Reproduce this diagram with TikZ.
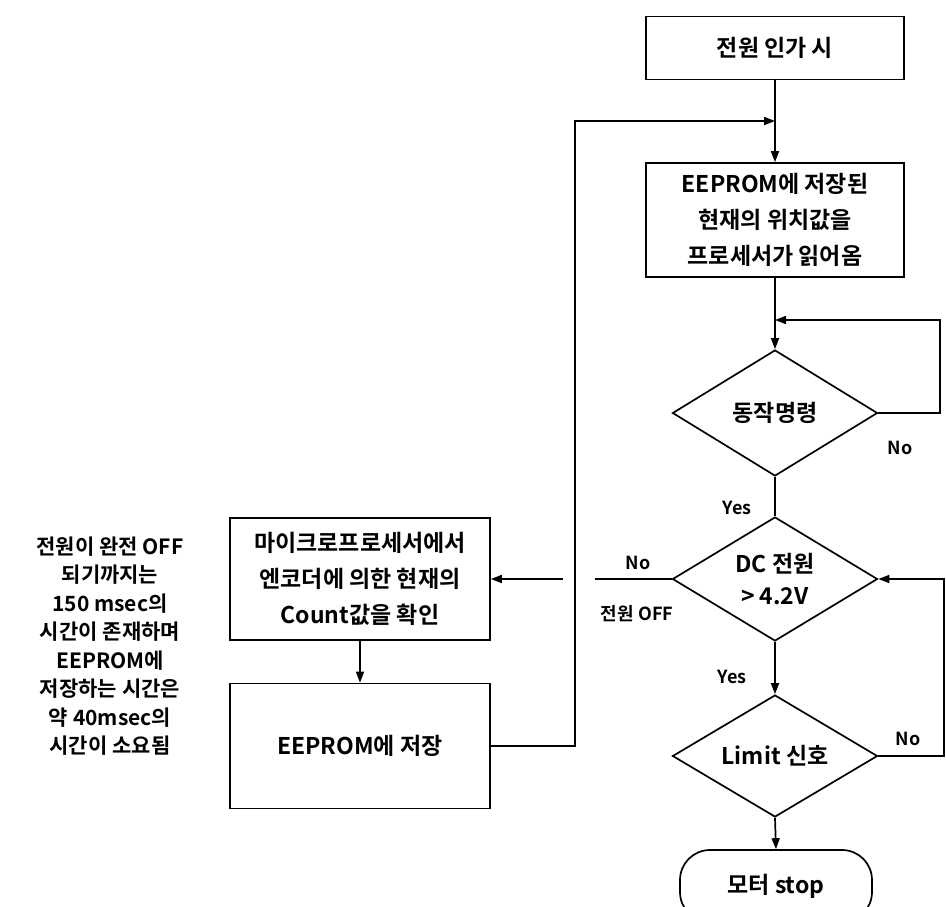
\documentclass[tikz,border=0pt]{standalone}
\usepackage{fontspec}
\setmainfont{Noto Sans CJK KR}[BoldFont={Noto Sans CJK KR Bold}]
\usetikzlibrary{shapes.geometric,arrows.meta}
\begin{document}
\begin{tikzpicture}[x=1pt,y=-1pt,
  line width=1.7pt,
  arr/.style={-{Triangle[length=11pt,width=8pt]}},
  box/.style={draw,rectangle,inner sep=0pt,align=center,font=\fontsize{23}{36}\selectfont\bfseries},
  dec/.style={draw,diamond,aspect=1.64,inner sep=0pt,minimum width=205pt,align=center,font=\fontsize{23}{32}\selectfont\bfseries},
  lbl/.style={font=\fontsize{18}{20}\selectfont\bfseries,inner sep=0pt},
  note/.style={align=center,inner sep=0pt,font=\fontsize{21}{28.5}\selectfont\bfseries},
  ]
\useasboundingbox (0,0) rectangle (946,906);
\clip (0,0) rectangle (946,906);

% main column
\node[box,minimum width=258pt,minimum height=63pt] (top) at (775,48) {전원 인가 시};
\node[box,minimum width=258pt,minimum height=114pt] (read) at (775,220) {EEPROM에 저장된\\현재의 위치값을\\프로세서가 읽어옴};
\node[dec,minimum height=126pt] (d1) at (775,413) {동작명령};
\node[dec,minimum height=124pt] (d2) at (775,579) {DC 전원\\> 4.2V};
\node[dec,minimum height=122pt] (d3) at (775,756) {Limit 신호};
\node[draw,rectangle,rounded corners=30pt,minimum width=192pt,minimum height=72pt,inner sep=0pt,font=\fontsize{23}{26}\selectfont\bfseries] (term) at (776,886) {모터 stop};

% left column
\node[box,minimum width=260pt,minimum height=122pt] (mc) at (360,579) {마이크로프로세서에서\\엔코더에 의한 현재의\\Count값을 확인};
\node[box,minimum width=260pt,minimum height=125pt] (save) at (360,746) {EEPROM에 저장};
\node[note] (nt) at (110,646) {전원이 완전 OFF\\되기까지는\\150 msec의\\시간이 존재하며\\EEPROM에\\저장하는 시간은\\약 40msec의\\시간이 소요됨};

% helper coordinates
\coordinate (j1) at (775,121);
\coordinate (lp) at (575,121);
\coordinate (j2) at (775,320);
\coordinate (c1) at (940,320);
\coordinate (c2) at (944,579);
\coordinate (g1) at (595,579);
\coordinate (g2) at (563,579);

% connectors
\draw[arr] (top) -- (read);
\draw[arr] (save.east) -| (lp) -- (j1);
\draw[arr] (read) -- (d1);
\draw[arr] (d1.east) -| (c1) -- (j2);
\draw (d1.south) -- (d2.north);
\draw[arr] (d2.south) -- (d3.north);
\draw[arr] (d3.south) -- (term.north);
\draw (d2.west) -- (g1);
\draw[arr] (g2) -- (mc.east);
\draw[arr] (mc) -- (save);
\draw[arr] (d3.east) -| (c2) -- (d2.east);

% labels
\node[lbl] (l1) at (900,448) {No};
\node[lbl] (l2) at (737,508) {Yes};
\node[lbl] (l3) at (638,563) {No};
\node[lbl] (l4) at (637,614) {전원 OFF};
\node[lbl] (l5) at (732,677) {Yes};
\node[lbl] (l6) at (908,739) {No};
\end{tikzpicture}
\end{document}
